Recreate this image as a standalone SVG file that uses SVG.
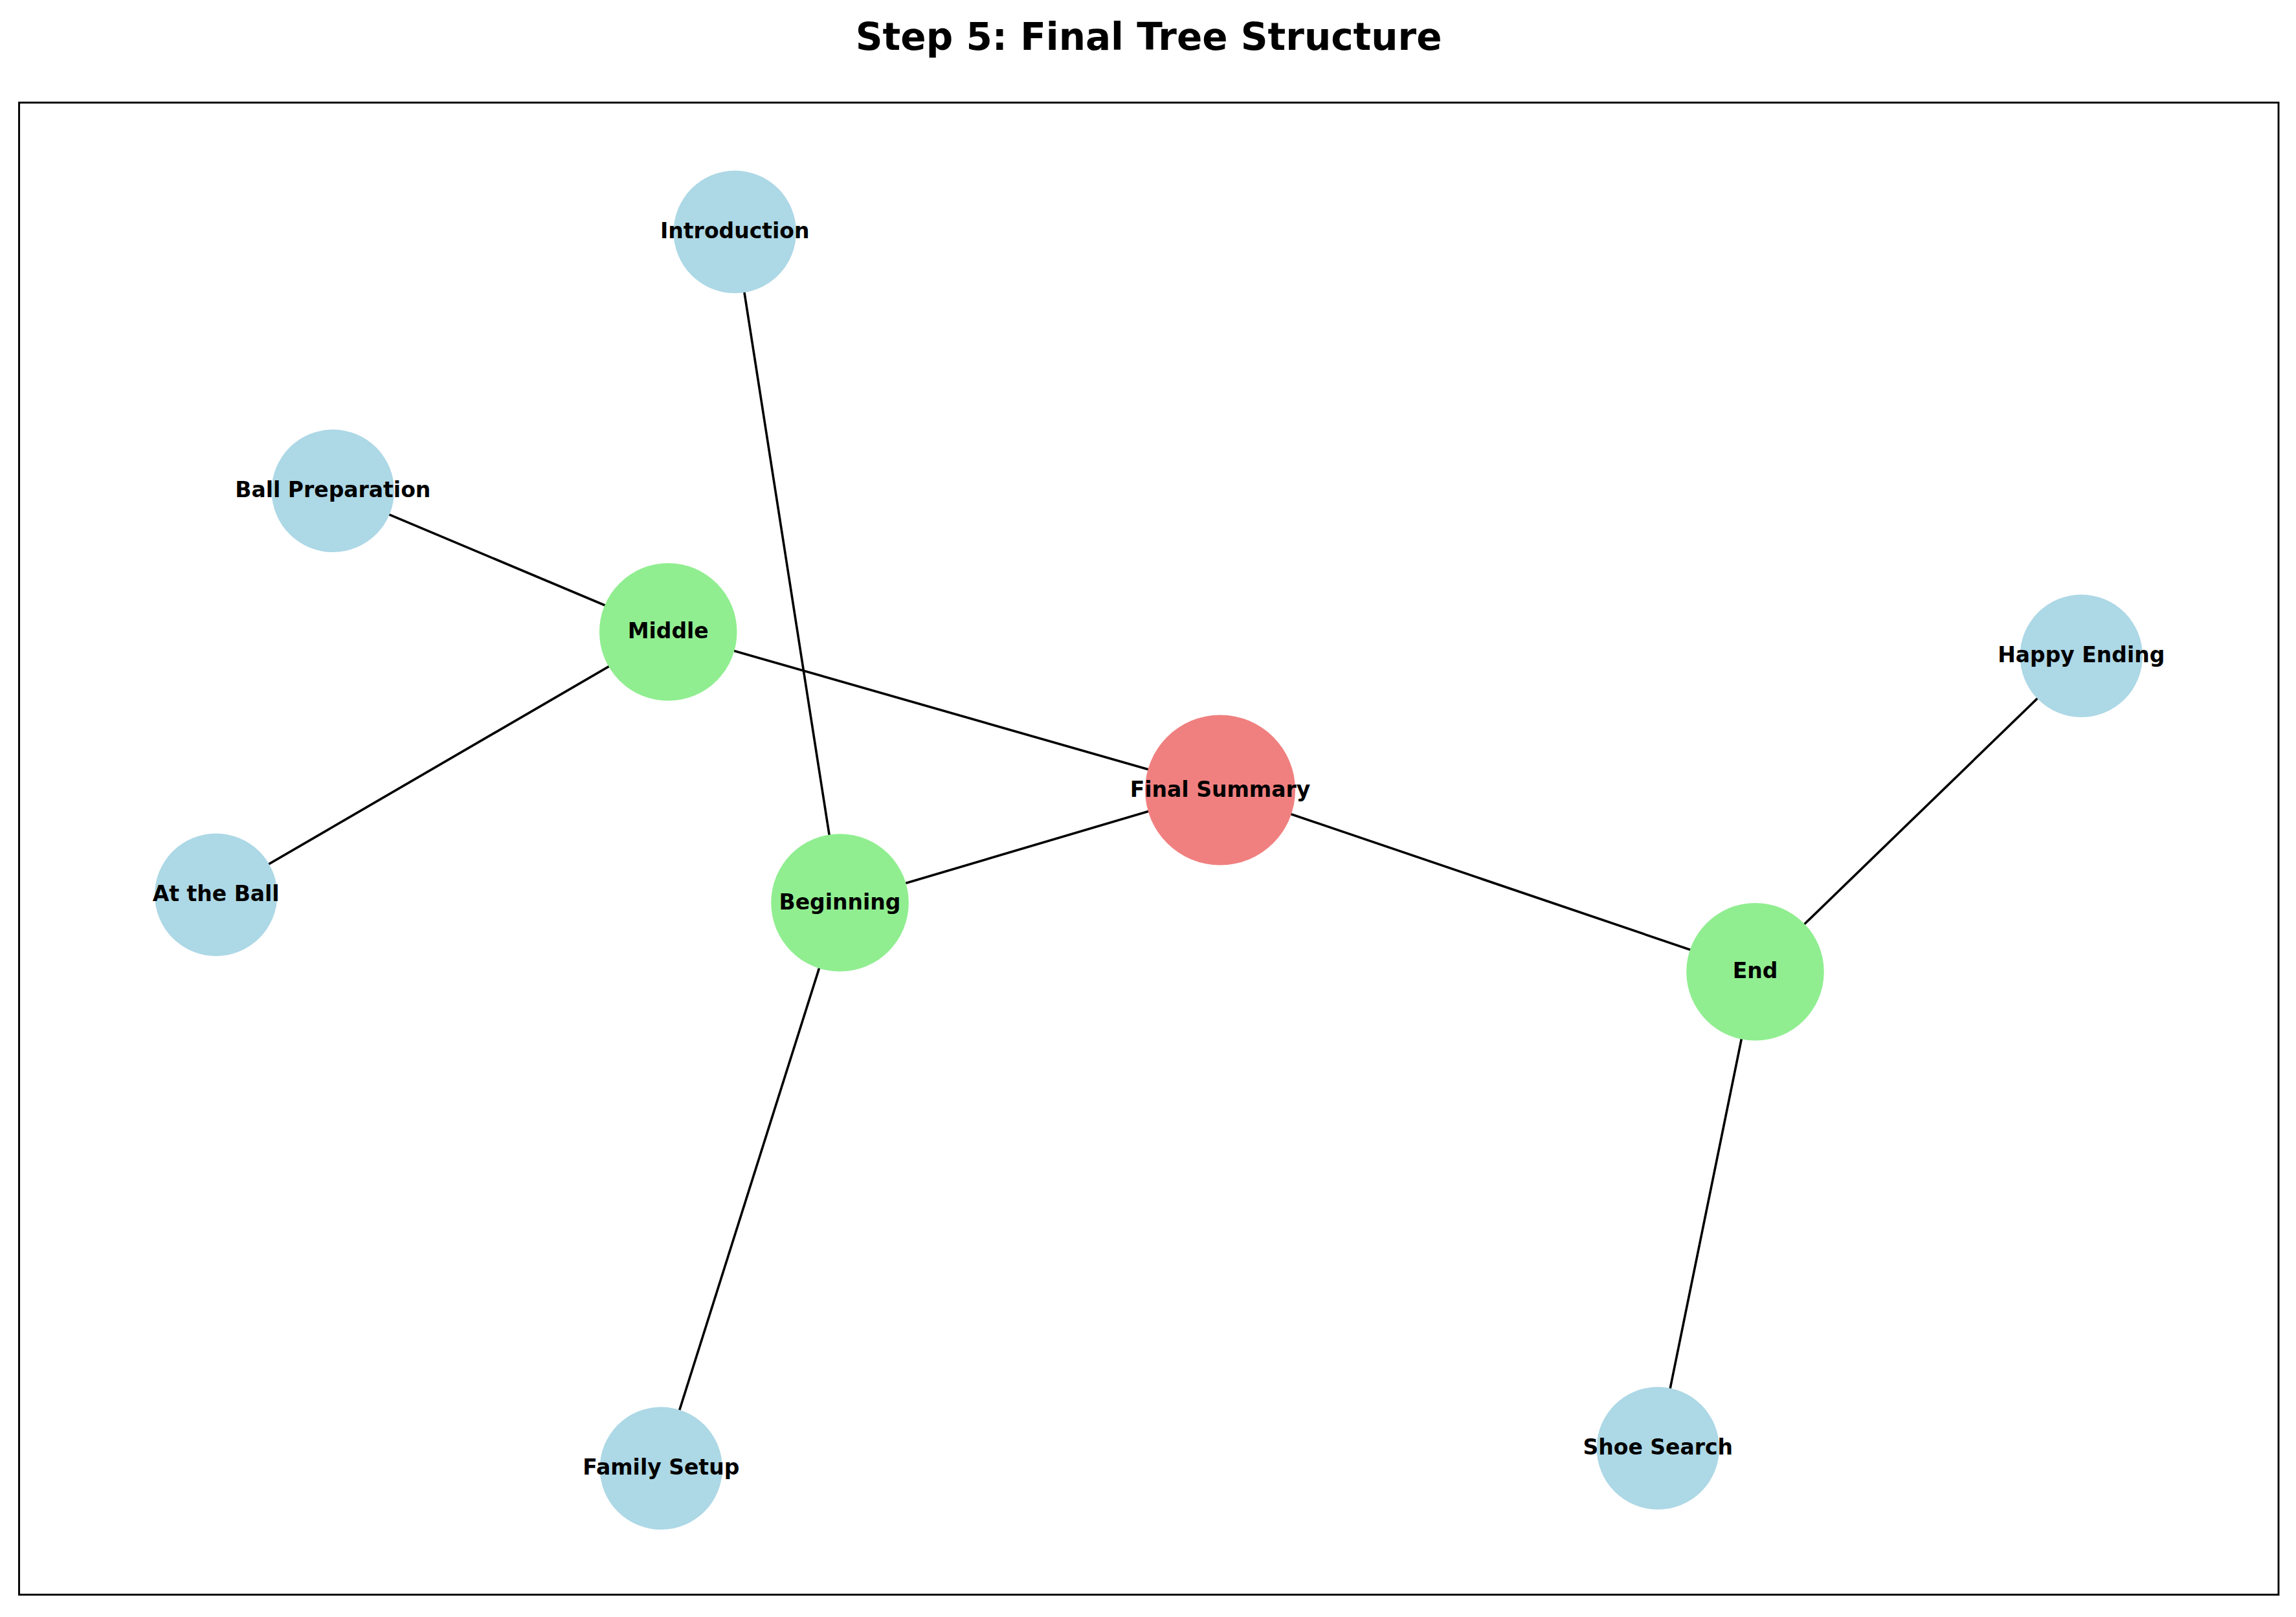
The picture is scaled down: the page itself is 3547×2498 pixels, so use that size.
<svg xmlns="http://www.w3.org/2000/svg" width="3547" height="2498" viewBox="0 0 3547 2498">
<style>
.edge{stroke:#000;stroke-width:3.6;fill:none}
.leaf{fill:#ADD8E6}
.mid{fill:#90EE90}
.root{fill:#F08080}
.lbl{font-family:"DejaVu Sans",sans-serif;font-weight:bold;font-size:33px;text-anchor:middle;fill:#000}
.title{font-family:"DejaVu Sans",sans-serif;font-weight:bold;font-size:58px;text-anchor:middle;fill:#000}
</style>
<rect width="3547" height="2498" fill="#fff"/>
<text class="title" x="1774.7" y="77">Step 5: Final Tree Structure</text>
<rect x="29.5" y="158.5" width="3490.5" height="2305" fill="none" stroke="#000" stroke-width="2.9"/>
<g id="connectors">
<line class="edge" x1="1885" y1="1220.5" x2="1032.2" y2="976.3"/>
<line class="edge" x1="1885" y1="1220.5" x2="1297.5" y2="1394.5"/>
<line class="edge" x1="1885" y1="1220.5" x2="2711.5" y2="1501.3"/>
<line class="edge" x1="1032.2" y1="976.3" x2="514.3" y2="758.3"/>
<line class="edge" x1="1032.2" y1="976.3" x2="333.7" y2="1382.3"/>
<line class="edge" x1="1297.5" y1="1394.5" x2="1135.3" y2="358.3"/>
<line class="edge" x1="1297.5" y1="1394.5" x2="1021.3" y2="2268.3"/>
<line class="edge" x1="2711.5" y1="1501.3" x2="3215.3" y2="1013.3"/>
<line class="edge" x1="2711.5" y1="1501.3" x2="2561.3" y2="2237.3"/>
</g>
<g id="node-introduction"><circle class="leaf" cx="1135.3" cy="358.3" r="94.7"/><text class="lbl" x="1135.3" y="368.3">Introduction</text></g>
<g id="node-ball-preparation"><circle class="leaf" cx="514.3" cy="758.3" r="94.7"/><text class="lbl" x="514.3" y="768.3">Ball Preparation</text></g>
<g id="node-middle"><circle class="mid" cx="1032.2" cy="976.3" r="106.3"/><text class="lbl" x="1032.2" y="986.3">Middle</text></g>
<g id="node-happy-ending"><circle class="leaf" cx="3215.3" cy="1013.3" r="94.7"/><text class="lbl" x="3215.3" y="1023.3">Happy Ending</text></g>
<g id="node-final-summary"><circle class="root" cx="1885" cy="1220.5" r="116"/><text class="lbl" x="1885" y="1230.5">Final Summary</text></g>
<g id="node-at-the-ball"><circle class="leaf" cx="333.7" cy="1382.3" r="94.7"/><text class="lbl" x="333.7" y="1392.3">At the Ball</text></g>
<g id="node-beginning"><circle class="mid" cx="1297.5" cy="1394.5" r="106.3"/><text class="lbl" x="1297.5" y="1404.5">Beginning</text></g>
<g id="node-end"><circle class="mid" cx="2711.5" cy="1501.3" r="106.3"/><text class="lbl" x="2711.5" y="1511.3">End</text></g>
<g id="node-family-setup"><circle class="leaf" cx="1021.3" cy="2268.3" r="94.7"/><text class="lbl" x="1021.3" y="2278.3">Family Setup</text></g>
<g id="node-shoe-search"><circle class="leaf" cx="2561.3" cy="2237.3" r="94.7"/><text class="lbl" x="2561.3" y="2247.3">Shoe Search</text></g>
</svg>
